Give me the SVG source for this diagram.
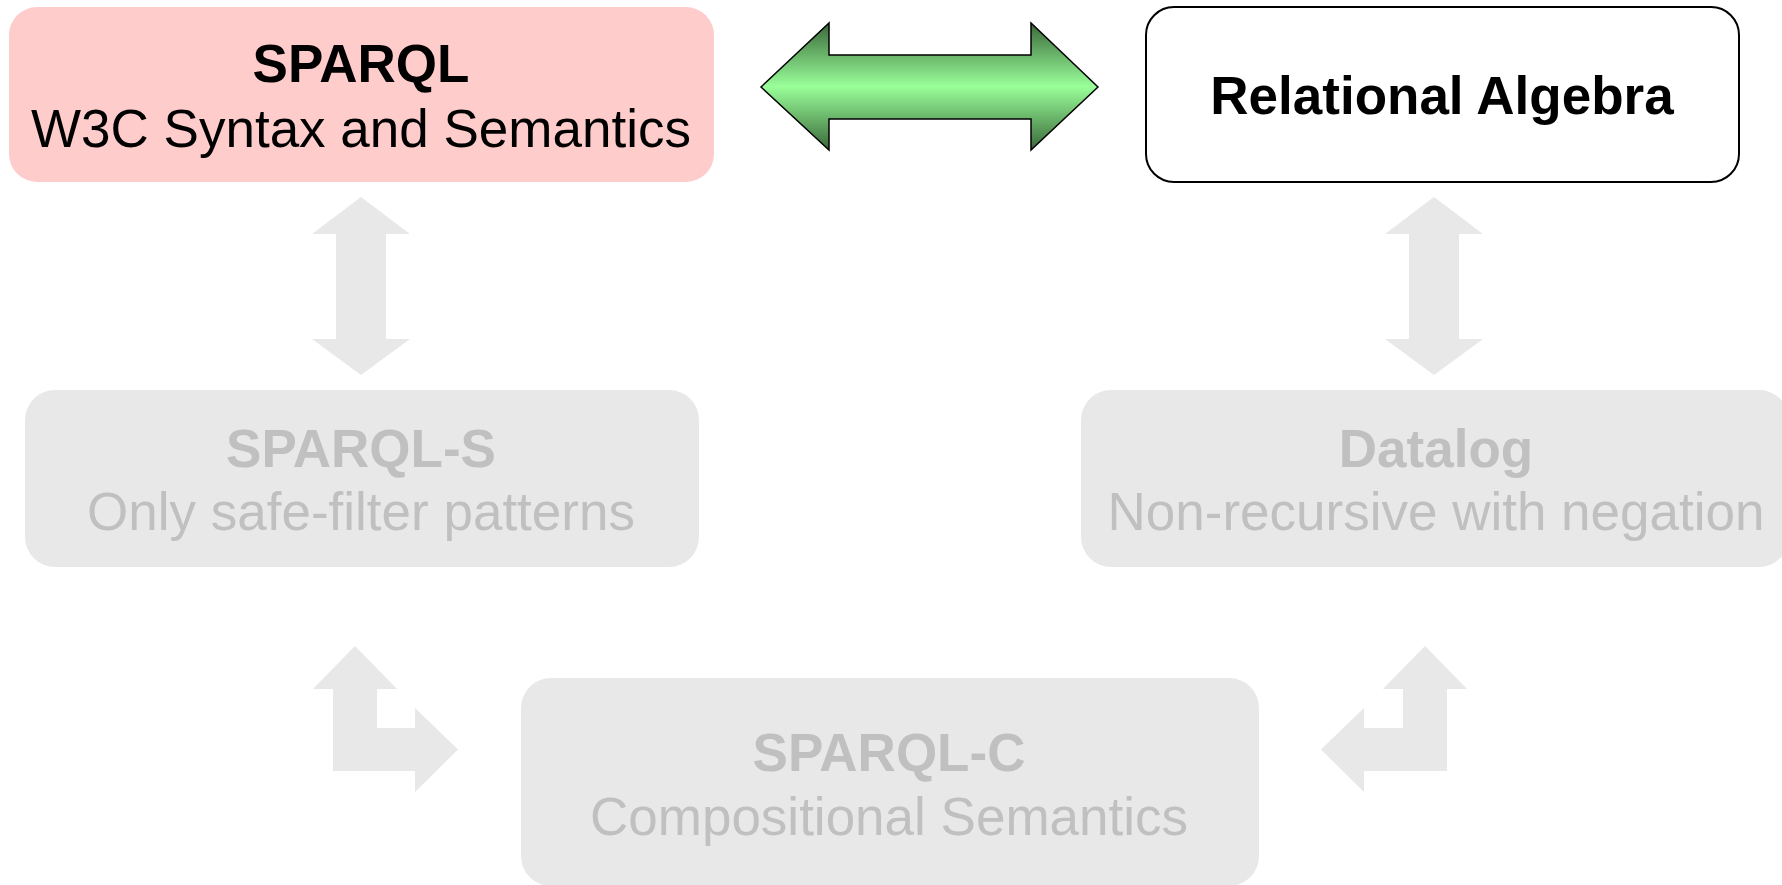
<svg xmlns="http://www.w3.org/2000/svg" width="1782" height="885" viewBox="0 0 1782 885">
<style>
.t{font-family:"Liberation Sans",Arial,sans-serif;font-size:53px;text-anchor:middle}
.b{font-weight:bold}
.dk{fill:#000}
.lt{fill:#C0C0C0}
.gbox{fill:#E8E8E8}
.garrow{fill:#E8E8E8}
</style>
<defs>
<linearGradient id="gg" x1="0" y1="0" x2="0" y2="1">
<stop offset="0" stop-color="#3a683a"/>
<stop offset="0.5" stop-color="#99ff99"/>
<stop offset="1" stop-color="#3a683a"/>
</linearGradient>
</defs>
<g id="connectors">
<polygon id="c-green" points="761,87 829,23 829,55 1031,55 1031,23 1098,87 1031,150 1031,119 829,119 829,150" fill="url(#gg)" stroke="#000" stroke-width="1.5" stroke-linejoin="miter"/>
<polygon id="c-left-v" class="garrow" points="361,197 410,234 386,234 386,339 410,339 361,375 312,339 336,339 336,234 312,234"/>
<polygon id="c-right-v" class="garrow" points="1434,197 1483,234 1459,234 1459,339 1483,339 1434,375 1385,339 1409,339 1409,234 1385,234"/>
<polygon id="c-left-l" class="garrow" points="355,646 397,689 377,689 377,728 415,728 415,708 458,749.5 415,792 415,771 333,771 333,689 313,689"/>
<polygon id="c-right-l" class="garrow" points="1425,646 1467,689 1447,689 1447,771 1364,771 1364,792 1321,749.5 1364,708 1364,728 1403,728 1403,689 1383,689"/>
</g>
<g id="sparql">
<rect x="9" y="7" width="705" height="175" rx="28" ry="28" fill="#FFCCCC"/>
<text class="t b dk" x="361" y="82">SPARQL</text>
<text class="t dk" x="361" y="147">W3C Syntax and Semantics</text>
</g>
<g id="relational-algebra">
<rect x="1146" y="7" width="593" height="175" rx="28" ry="28" fill="#FFFFFF" stroke="#000" stroke-width="2"/>
<text class="t b dk" x="1442" y="114">Relational Algebra</text>
</g>
<g id="sparql-s">
<rect class="gbox" x="25" y="390" width="674" height="177" rx="30" ry="30"/>
<text class="t b lt" x="361" y="467">SPARQL-S</text>
<text class="t lt" x="361" y="530">Only safe-filter patterns</text>
</g>
<g id="datalog">
<rect class="gbox" x="1081" y="390" width="708" height="177" rx="30" ry="30"/>
<text class="t b lt" x="1436" y="467">Datalog</text>
<text class="t lt" x="1436" y="530">Non-recursive with negation</text>
</g>
<g id="sparql-c">
<rect class="gbox" x="521" y="678" width="738" height="208" rx="30" ry="30"/>
<text class="t b lt" x="889" y="771">SPARQL-C</text>
<text class="t lt" x="889" y="835">Compositional Semantics</text>
</g>
</svg>
